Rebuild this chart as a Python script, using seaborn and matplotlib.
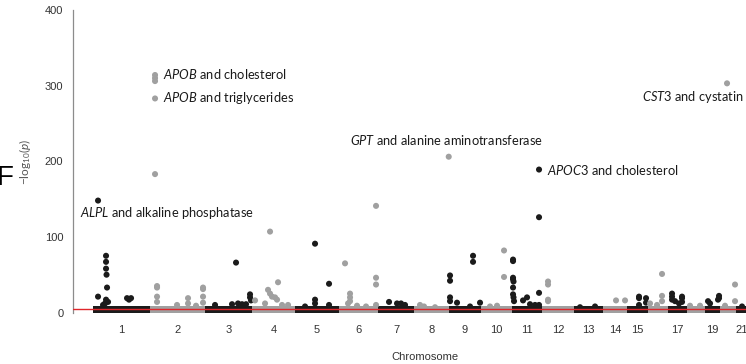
import numpy as np
import pandas as pd
import matplotlib
matplotlib.use("Agg")
import matplotlib.pyplot as plt
import seaborn as sns

# --- style ---
sns.set_style("white")
plt.rcParams['font.family'] = ['Liberation Sans', 'DejaVu Sans']
plt.rcParams['mathtext.fontset'] = 'custom'
plt.rcParams['mathtext.rm'] = 'Lato'
plt.rcParams['mathtext.it'] = 'Lato:italic'

# --- data ---
chrom_names = [str(i) for i in range(1, 23)]
# relative chromosome widths on the axis
chrom_len = [57, 55, 47, 43, 44, 39, 36, 35, 32, 31, 30, 32, 29, 24, 21, 20, 19, 18, 15, 16, 12, 12]
# height of the dense band of non-significant SNPs
band_top = [8.5, 8.5, 8.5, 8.5, 8.5, 8.5, 8.5, 8.5, 8.5, 8.5, 8.5,
            8.5, 8.5, 8.5, 8.5, 8.5, 8.5, 8.5, 8.5, 8.5, 8.5, 8.5]

# points standing out from the band: chromosome, position within chromosome, -log10(p)
hit_chrom = [1, 1, 1, 1, 1, 1, 1, 1, 1, 1, 1, 1, 1, 1,
             2, 2, 2, 2, 2, 2, 2, 2, 2, 2, 2, 2, 2, 2, 2, 2, 2,
             3, 3, 3, 3, 3, 3, 3, 3, 3,
             4, 4, 4, 4, 4, 4, 4, 4, 4, 4, 4,
             5, 5, 5, 5, 5, 5,
             6, 6, 6, 6, 6, 6, 6, 6, 6, 6, 6,
             7, 7, 7, 7,
             8, 8, 8, 8,
             9, 9, 9, 9, 9, 9, 9, 9, 9,
             10, 10, 10, 10,
             11, 11, 11, 11, 11, 11, 11, 11, 11, 11, 11, 11, 11, 11, 11, 11, 11,
             12, 12, 12, 12,
             13, 13,
             14, 14,
             15, 15, 15, 15, 15,
             16, 16, 16, 16, 16,
             17, 17, 17, 17, 17, 17, 17, 17,
             18, 18,
             19, 19, 19, 19, 19,
             20, 20, 20, 20,
             21]
hit_pos = [5, 5, 13, 13, 13, 13.5, 14, 13, 12, 15, 10, 34, 38, 36,
           5, 5, 5, 5, 5, 7, 7, 7, 7, 27, 38, 38, 46, 53, 53, 53, 53,
           31, 45, 45, 46, 41, 10, 27, 33, 37,
           18, 26, 16, 18, 20, 23, 25, 13, 30, 3, 36,
           20, 34, 20, 20, 34, 10,
           6, 11, 11, 11, 9, 37, 37, 37, 37, 18, 27,
           11, 19, 23, 27,
           6, 10, 21, 34.7,
           1, 1, 1, 1, 8, 24, 24, 31, 21,
           23, 23, 9, 16,
           1, 1, 1, 1, 1.5, 1, 1, 1.5, 2, 11, 15, 18, 23, 27, 27, 27, 27,
           6, 6, 6, 6,
           6, 21,
           13, 22,
           12, 12, 12, 19, 19,
           14, 14, 14, 2, 9,
           4, 4, 4, 7, 14, 14, 14, 11,
           3, 13,
           3, 5, 14, 14, 13,
           7, 15, 15, 5,
           6]
hit_logp = [148, 21, 75, 67, 58, 50, 33, 17, 12, 14, 10, 19, 19, 17,
            314, 310, 306, 283, 183, 35, 33, 21, 14, 10, 19, 12, 9, 33, 31, 21, 13,
            66, 24, 20, 16, 11, 10, 11, 12, 11,
            107, 40, 30, 25, 21, 20, 17, 12, 10, 16, 10,
            91, 38, 17, 12, 10, 8,
            65, 25, 20, 15, 12, 141, 46, 37, 10, 9, 8,
            14, 12, 12, 10,
            10, 8, 7, 206,
            49, 42, 20, 15, 13, 75, 67, 13, 8,
            82, 47, 8, 9,
            70, 68, 46, 44, 41, 33, 24, 20, 15, 16, 20, 11, 10, 189, 126, 26, 10,
            41, 37, 17, 15,
            7, 8,
            16, 16,
            21, 19, 10, 19, 13,
            51, 22, 15, 12, 10,
            25, 21, 17, 15, 21, 19, 14, 12,
            9, 9,
            15, 12, 22, 19, 17,
            303, 37, 15, 9,
            8]

# labelled hits: chromosome, position, -log10(p), gene, trait
lab_chrom = [2, 2, 8, 11, 1, 20]
lab_pos = [5, 5, 34.7, 27, 5, 7]
lab_logp = [314, 283, 206, 189, 148, 303]
lab_gene = ['APOB', 'APOB', 'GPT', 'APOC3', 'ALPL', 'CST3']
lab_trait = ['cholesterol', 'triglycerides', 'alanine aminotransferase',
             'cholesterol', 'alkaline phosphatase', 'cystatin c']

signif = 5  # red threshold line

# --- build positions ---
offsets = np.concatenate([[0], np.cumsum(chrom_len)[:-1]])
centers = offsets + np.array(chrom_len) / 2

df = pd.DataFrame({'chrom': hit_chrom, 'pos': hit_pos, 'logp': hit_logp})
df['x'] = offsets[df['chrom'] - 1] + df['pos']
df['odd'] = df['chrom'] % 2

black = '#1b1b1b'
grey = '#a0a0a0'
band_colors = [black if (i + 1) % 2 else grey for i in range(len(chrom_len))]

fig = plt.figure(figsize=(7.46, 3.64), dpi=100)
ax = fig.add_axes([0.0979, 0.1404, 0.9209, 0.8530])

ax.bar(centers, band_top, width=chrom_len, color=band_colors, linewidth=0, zorder=2)
sns.scatterplot(data=df, x='x', y='logp', hue='odd', palette={1: black, 0: grey},
                s=19, linewidth=0, legend=False, ax=ax, zorder=3)
ax.axhline(signif, color='#e0262b', linewidth=1.0, zorder=4)

ax.set_xlim(-20, 667)
ax.set_ylim(-0.5, 410)

tick_labels = [n if n not in ('16', '18', '20', '22') else '' for n in chrom_names]
ax.set_xticks(centers)
ax.set_xticklabels(tick_labels)
ax.set_yticks([0, 100, 200, 300, 400])
ax.set_xlabel('')
ax.set_ylabel('')

for side in ['top', 'right', 'bottom']:
    ax.spines[side].set_visible(False)
ax.spines['left'].set_bounds(0, 400)
ax.spines['left'].set_color('#8c8c8c')
ax.spines['left'].set_linewidth(0.9)
ax.tick_params(axis='both', length=4, width=0.8, color='#8c8c8c',
               labelsize=8, labelcolor='#333333')
ax.tick_params(axis='x', pad=5)
ax.tick_params(axis='y', pad=3)

# annotations (offsets in points from the hit)
lab_offset = [(6, 1), (6, 0), (-71, 12), (6, 0), (-13, -9), (-61, -10)]
for c, p, v, g, t, off in zip(lab_chrom, lab_pos, lab_logp, lab_gene, lab_trait, lab_offset):
    xx = offsets[c - 1] + p
    ax.annotate(r'$\mathit{' + g + '}$ and ' + t, xy=(xx, v), xytext=off,
                textcoords='offset points', ha='left', va='center',
                fontsize=9.3, family='Lato', color='#1a1a1a', zorder=5)

fig.text(425 / 746, 1 - 357 / 364, 'Chromosome', ha='center', va='center',
         fontsize=8, color='#333333')
fig.text(25 / 746, 1 - 162 / 364, r'$-\mathrm{log}_{10}(\mathit{p})$', rotation=90,
         ha='center', va='center', fontsize=8.5, color='#555555')
# panel letter, partly cut off at the left edge as in the source figure
fig.text(14 / 746, 1 - 178 / 364, 'F', ha='right', va='center', fontsize=20, color='black')

fig.savefig('out.png', dpi=100)
